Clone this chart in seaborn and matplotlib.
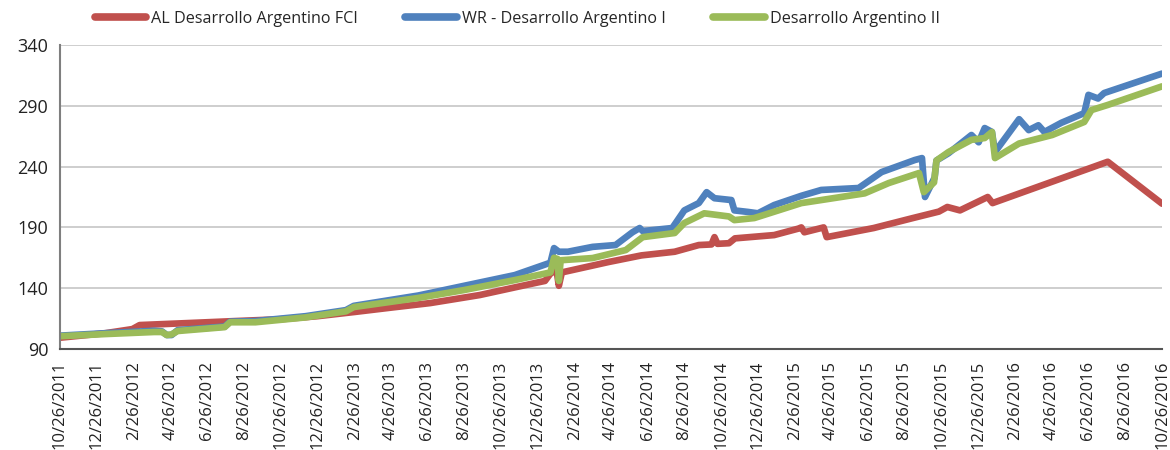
import pandas as pd
import matplotlib
matplotlib.use('Agg')
import matplotlib.pyplot as plt
import seaborn as sns

# series names
names = ['AL Desarrollo Argentino FCI', 'WR - Desarrollo Argentino I', 'Desarrollo Argentino II']
colors = ['#C0504D', '#4F81BD', '#9BBB59']

# AL Desarrollo Argentino FCI
al_dates = ['2011-10-26', '2012-01-09', '2012-02-23', '2012-03-06', '2012-05-28', '2012-08-12',
            '2012-10-26', '2012-12-26', '2013-02-26', '2013-04-26', '2013-07-01', '2013-09-21',
            '2013-11-21', '2013-12-19', '2014-01-07', '2014-01-16', '2014-01-26', '2014-01-30',
            '2014-02-04', '2014-04-22', '2014-06-16', '2014-08-10', '2014-09-19', '2014-10-10',
            '2014-10-15', '2014-10-20', '2014-11-08', '2014-11-18', '2015-01-22', '2015-03-03',
            '2015-03-08', '2015-03-13', '2015-04-14', '2015-04-19', '2015-07-06', '2015-09-09',
            '2015-10-22', '2015-11-05', '2015-11-26', '2016-01-11', '2016-01-19', '2016-07-28',
            '2016-10-26']
al_values = [99.3, 103, 106.4, 109.7, 111.4, 113,
             114.5, 117, 120.5, 124, 127.8, 134.4,
             141, 144, 146, 152, 155, 142,
             153, 161.5, 167, 170, 175.5, 176,
             182, 176.5, 177, 181, 183.7, 189,
             190, 186, 190, 182, 189.5, 197.7,
             203, 206.8, 204, 215, 210, 244,
             209.5]

# WR - Desarrollo Argentino I
wr_dates = ['2011-10-26', '2012-01-09', '2012-03-30', '2012-04-12', '2012-04-20', '2012-04-28',
            '2012-05-08', '2012-07-25', '2012-08-03', '2012-09-14', '2012-12-06', '2013-02-11',
            '2013-02-24', '2013-06-11', '2013-08-26', '2013-11-18', '2014-01-16', '2014-01-22',
            '2014-01-30', '2014-02-14', '2014-03-27', '2014-05-04', '2014-06-01', '2014-06-13',
            '2014-06-18', '2014-08-06', '2014-08-26', '2014-09-19', '2014-10-02', '2014-10-15',
            '2014-11-12', '2014-11-17', '2014-12-10', '2014-12-26', '2015-01-22', '2015-03-08',
            '2015-04-10', '2015-06-11', '2015-07-19', '2015-09-12', '2015-09-24', '2015-09-29',
            '2015-10-15', '2015-10-18', '2015-11-07', '2015-12-15', '2015-12-27', '2016-01-06',
            '2016-01-18', '2016-01-23', '2016-03-03', '2016-03-19', '2016-04-04', '2016-04-14',
            '2016-05-12', '2016-06-19', '2016-06-26', '2016-07-12', '2016-07-22', '2016-10-26']
wr_values = [101, 103, 105, 104.5, 101.5, 101.5,
             105.5, 108.5, 112.5, 113, 117, 122,
             125.5, 134, 142, 150.8, 161, 173,
             170, 170, 174, 175.5, 186, 189.5,
             187, 189.5, 204, 210, 219, 214,
             212.5, 204, 202.7, 201.6, 208.4, 216,
             220.8, 222.4, 235.5, 245.4, 247, 215,
             231, 245, 251, 266, 260, 271.7,
             268.5, 252, 279, 270, 274, 268.5,
             276, 284, 299, 296, 300.5, 316.5]

# Desarrollo Argentino II
da_dates = ['2011-10-26', '2012-01-09', '2012-03-30', '2012-04-12', '2012-04-20', '2012-04-28',
            '2012-05-08', '2012-07-25', '2012-08-03', '2012-09-14', '2012-12-06', '2013-02-11',
            '2013-02-24', '2013-06-11', '2013-08-26', '2013-11-18', '2014-01-16', '2014-01-22',
            '2014-01-28', '2014-01-30', '2014-02-02', '2014-03-27', '2014-05-21', '2014-06-18',
            '2014-08-10', '2014-08-26', '2014-09-28', '2014-11-08', '2014-11-17', '2014-12-20',
            '2015-03-08', '2015-04-10', '2015-06-21', '2015-07-31', '2015-09-19', '2015-09-27',
            '2015-10-14', '2015-10-18', '2015-11-07', '2015-12-15', '2016-01-06', '2016-01-18',
            '2016-01-23', '2016-03-03', '2016-04-27', '2016-06-19', '2016-07-01', '2016-07-28',
            '2016-10-26']
da_values = [100.5, 102.3, 104, 104, 101.5, 102,
             104.8, 108, 112, 112, 116, 121,
             124.5, 132, 138.5, 146.7, 153, 165,
             164, 146, 163, 164.8, 171.4, 182,
             185.4, 193.6, 201.6, 199, 196, 197.7,
             210, 212.5, 218, 226.5, 234.7, 219,
             227, 245, 252, 262, 263.5, 268.5,
             247, 259, 266, 276.7, 286.5, 290.7,
             306]

tick_labels = ['10/26/2011', '12/26/2011', '2/26/2012', '4/26/2012', '6/26/2012', '8/26/2012',
               '10/26/2012', '12/26/2012', '2/26/2013', '4/26/2013', '6/26/2013', '8/26/2013',
               '10/26/2013', '12/26/2013', '2/26/2014', '4/26/2014', '6/26/2014', '8/26/2014',
               '10/26/2014', '12/26/2014', '2/26/2015', '4/26/2015', '6/26/2015', '8/26/2015',
               '10/26/2015', '12/26/2015', '2/26/2016', '4/26/2016', '6/26/2016', '8/26/2016',
               '10/26/2016']
y_ticks = [90, 140, 190, 240, 290, 340]

df = pd.concat([
    pd.DataFrame({'fecha': pd.to_datetime(al_dates), 'valor': al_values, 'serie': names[0]}),
    pd.DataFrame({'fecha': pd.to_datetime(wr_dates), 'valor': wr_values, 'serie': names[1]}),
    pd.DataFrame({'fecha': pd.to_datetime(da_dates), 'valor': da_values, 'serie': names[2]}),
], ignore_index=True)

sns.set_style('white')
plt.rcParams['font.family'] = ['Open Sans', 'DejaVu Sans']

fig = plt.figure(figsize=(11.7, 4.5), dpi=100)
ax = fig.add_axes([0.0513, 0.2244, 0.9419, 0.6756])

sns.lineplot(data=df, x='fecha', y='valor', hue='serie', hue_order=names, palette=colors,
             estimator=None, linewidth=4.8, ax=ax, legend=False,
             solid_capstyle='round', solid_joinstyle='round')

ax.set_ylim(90, 340)
ax.set_yticks(y_ticks)
ax.set_xlim(pd.Timestamp('2011-10-26'), pd.Timestamp('2016-10-26'))
tick_dates = pd.to_datetime(tick_labels, format='%m/%d/%Y')
ax.set_xticks(tick_dates)
ax.set_xticklabels(tick_labels, rotation=90, fontsize=12, color='#222222')
ax.tick_params(axis='y', labelsize=13, colors='#222222', length=5, color='#7f7f7f', width=1.2)
ax.tick_params(axis='x', length=5, color='#7f7f7f', width=1.2)
ax.yaxis.grid(True, color='#c6c6c6', linewidth=1.2)
ax.set_axisbelow(True)
ax.set_xlabel('')
ax.set_ylabel('')
for s in ['top', 'right']:
    ax.spines[s].set_visible(False)
ax.spines['left'].set_color('#7f7f7f')
ax.spines['left'].set_linewidth(1.5)
ax.spines['bottom'].set_color('#555555')
ax.spines['bottom'].set_linewidth(1.5)

handles = [plt.Line2D([], [], color=c, linewidth=5.5, solid_capstyle='round') for c in colors]
fig.legend(handles, names, loc='upper left', bbox_to_anchor=(0.0685, 1.008), ncol=3,
           frameon=False, fontsize=11.6, handlelength=3.2, handletextpad=0.3,
           columnspacing=2.95)

plt.savefig('out.png', dpi=100)
